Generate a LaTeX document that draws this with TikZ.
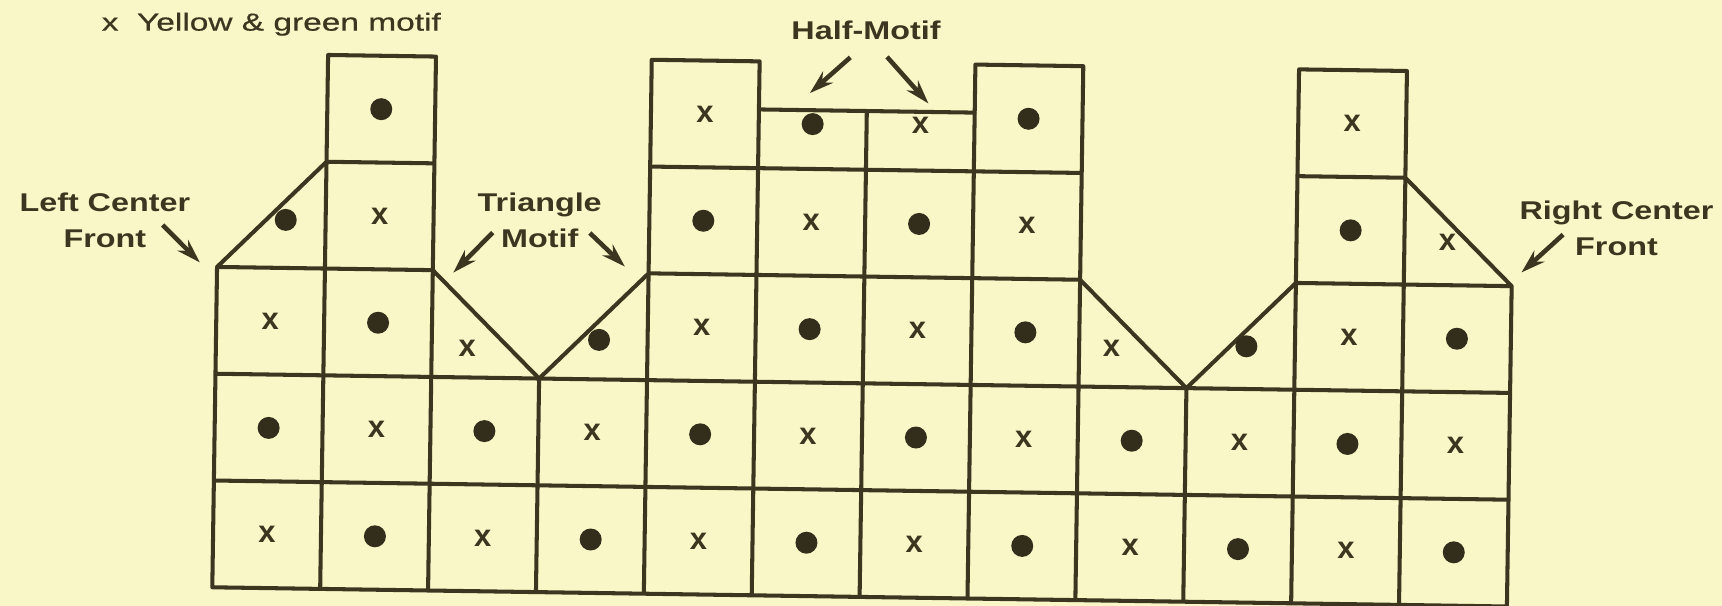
\documentclass[tikz,border=0pt]{standalone}
\usepackage{fontspec}
\setmainfont{Liberation Sans}
\newfontfamily\lblfont[FakeStretch=1.26]{Liberation Sans}
\newfontfamily\keyfont[FakeStretch=1.36,FakeBold=0.6]{Liberation Sans}
\usepackage{tikz}
\usetikzlibrary{
  arrows.meta,
  positioning,
  calc
}
\definecolor{paper}{RGB}{249,247,199}
\definecolor{ink}{RGB}{60,54,32}

\begin{document}
\begin{tikzpicture}[
        >=Stealth,
        gridline/.style={ink, line width=1.15pt, line join=round},
        dotmark/.style={circle, fill=ink!85!black, inner sep=0pt, minimum size=2.2mm},
        crossmark/.style={inner sep=0pt, text=ink, font=\fontsize{8.8}{9}\selectfont\bfseries},
        callout/.style={inner sep=0pt, text=ink, align=center, font=\lblfont\fontsize{7.3}{10.2}\selectfont\bfseries},
        keytext/.style={inner sep=0pt, text=ink, font=\keyfont\fontsize{7}{9}\selectfont},
        pointer/.style={-{Stealth[length=2.4mm,width=1.5mm]}, ink, line width=1.3pt}
    ]
        % Pagina
        \fill[paper] (0,0) rectangle (17.22,6.06);
        \useasboundingbox (0,0) rectangle (17.22,6.06);
        \begin{scope}[shift={(2.123,0.187)}, rotate=-0.85, x=1.079cm, y=1.068cm]
        % Contorno da peca
        \draw[gridline] (0,0) -- (0,3) -- (1,4) -- (1,5) -- (2,5) -- (2,3) -- (3,2) -- (4,3)
            -- (4,5) -- (5,5) -- (5,4.55) -- (7,4.55) -- (7,5) -- (8,5) -- (8,3) -- (9,2)
            -- (10,3) -- (10,5) -- (11,5) -- (11,4) -- (12,3) -- (12,0) -- cycle;
        % Linhas internas
        \foreach \v in {1,2} \draw[gridline] (0,\v) -- (12,\v);
        \draw[gridline] (0,3) -- (2,3); \draw[gridline] (4,3) -- (8,3); \draw[gridline] (10,3) -- (12,3);
        \draw[gridline] (1,4) -- (2,4); \draw[gridline] (4,4) -- (8,4); \draw[gridline] (10,4) -- (11,4);
        \foreach \u/\h in {1/4,2/3,3/2,4/3,5/4.55,6/4.55,7/4.55,8/3,9/2,10/3,11/4}
            \draw[gridline] (\u,0) -- (\u,\h);
        % Motivos: duas fileiras de baixo
        \foreach \r in {1,2}
            \foreach \c in {0,...,11} {
                \pgfmathtruncatemacro{\odd}{mod(\c+\r,2)}
                \ifnum\odd=1
                    \node[crossmark] (m-\c-\r) at (\c+0.5,\r-0.5) {x};
                \else
                    \node[dotmark] (m-\c-\r) at (\c+0.5,\r-0.5) {};
                \fi
            }
        % Motivos: fileiras de cima (triangulos e meio-motivos)
        \foreach \c/\r/\u/\v in {0/3/0.5/2.5, 1/3/1.5/2.5, 2/3/2.33/2.27, 3/3/3.55/2.37,
                4/3/4.5/2.5, 5/3/5.5/2.5, 6/3/6.5/2.5, 7/3/7.5/2.5, 8/3/8.3/2.36, 9/3/9.55/2.4,
                10/3/10.5/2.5, 11/3/11.5/2.5, 0/4/0.63/3.45, 1/4/1.5/3.5, 4/4/4.5/3.5, 5/4/5.5/3.5,
                6/4/6.5/3.5, 7/4/7.5/3.5, 10/4/10.5/3.5, 11/4/11.4/3.4, 1/5/1.5/4.5, 4/5/4.5/4.5,
                5/5/5.5/4.42, 6/5/6.5/4.42, 7/5/7.5/4.5, 10/5/10.5/4.5} {
                \pgfmathtruncatemacro{\odd}{mod(\c+\r,2)}
                \ifnum\odd=1
                    \node[crossmark] (m-\c-\r) at (\u,\v) {x};
                \else
                    \node[dotmark] (m-\c-\r) at (\u,\v) {};
                \fi
            }
        % Legenda e rotulos
        \node[keytext, anchor=north west] (key) at (-1.11,5.37) {x~~Yellow \& green motif};
        \node[callout, anchor=north] (lcf) at (-1.05,3.68) {Left Center\\Front};
        \node[callout, anchor=north] (tm) at (2.98,3.74) {Triangle\\Motif};
        \node[callout, anchor=north] (hm) at (5.98,5.40) {Half-Motif};
        \node[callout, anchor=north] (rcf) at (12.96,3.82) {Right Center\\Front};
        % Setas
        \coordinate (lcf-tail) at (-0.51,3.385); \coordinate (lcf-tip) at (-0.16,3.04);
        \coordinate (tm-ltail) at (2.55,3.36);   \coordinate (tm-ltip) at (2.19,2.98);
        \coordinate (tm-rtail) at (3.45,3.37);   \coordinate (tm-rtip) at (3.78,3.06);
        \coordinate (hm-ltail) at (5.84,5.05);   \coordinate (hm-ltip) at (5.47,4.71);
        \coordinate (hm-rtail) at (6.18,5.06);   \coordinate (hm-rtip) at (6.57,4.63);
        \coordinate (rcf-tail) at (12.47,3.49);  \coordinate (rcf-tip) at (12.09,3.13);
        \draw[pointer] (lcf-tail) -- (lcf-tip);
        \draw[pointer] (tm-ltail) -- (tm-ltip);
        \draw[pointer] (tm-rtail) -- (tm-rtip);
        \draw[pointer] (hm-ltail) -- (hm-ltip);
        \draw[pointer] (hm-rtail) -- (hm-rtip);
        \draw[pointer] (rcf-tail) -- (rcf-tip);
        \end{scope}
    \end{tikzpicture}
\end{document}
